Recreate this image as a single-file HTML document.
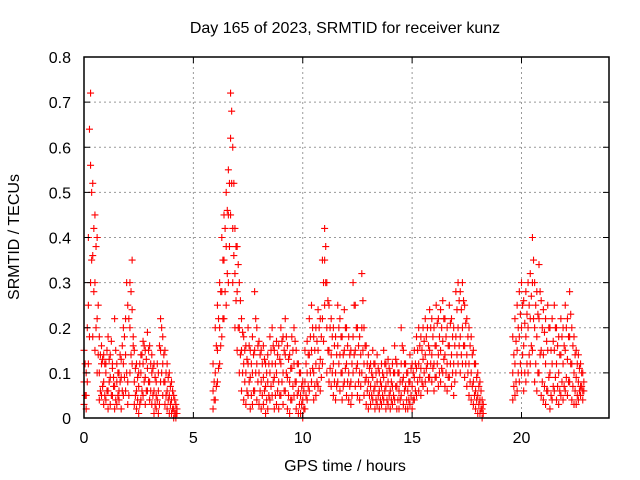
<!DOCTYPE html>
<html><head><meta charset="utf-8"><style>
body{margin:0;background:#fff;}
svg{display:block;font-family:"Liberation Sans",sans-serif;}
</style></head><body>
<svg id="chart" width="640" height="480">
<text x="345" y="33" font-size="16" text-anchor="middle">Day 165 of 2023, SRMTID for receiver kunz</text>
<text x="345" y="471" font-size="16" text-anchor="middle">GPS time / hours</text>
<text x="19" y="237" font-size="16" text-anchor="middle" transform="rotate(-90 19 237)">SRMTID / TECUs</text>
<g id="grid"></g><g id="marks"></g><g id="axes"></g>
</svg>
<script>
const segmentStart=[0,5.9,19.6];
const sampleStep=0.1;
const halfStep=0.05;
const upperA=[.15,.10,.40,.72,.52,.45,.40,.18,.16,.14,.12,.18,.14,.12,.22,.12,.10,.13,.20,.22,.25,.30,.35,.15,.12,.10,.14,.17,.15,.19,.16,.14,.12,.08,.10,.22,.18,.15,.12,.10,.08,.05,.03];
const midA=[.08,.05,.25,.56,.36,.30,.22,.10,.12,.08,.10,.06,.09,.11,.07,.08,.06,.09,.12,.14,.08,.20,.24,.08,.06,.07,.10,.12,.09,.11,.08,.10,.06,.05,.06,.15,.12,.08,.06,.05,.04,.02,.01];
const lowA=[.03,.02,.12,.30,.18,.15,.10,.04,.05,.03,.04,.02,.03,.05,.02,.03,.04,.02,.05,.06,.03,.10,.12,.03,.02,.01,.04,.05,.03,.06,.04,.03,.01,.02,.01,.08,.05,.03,.02,.01,.01,.00,.00];
const upperB=[.12,.20,.25,.30,.40,.45,.50,.55,.72,.60,.42,.38,.30,.22,.18,.16,.20,.15,.18,.28,.20,.17,.15,.16,.12,.14,.18,.20,.15,.17,.16,.20,.18,.22,.16,.14,.18,.20,.15,.12,.10,.08,.15,.17,.22,.25,.18,.20,.24,.22,.35,.42,.30,.25,.22,.20,.18,.25,.22,.18,.24,.20,.18,.15,.30,.25,.20,.18,.32,.20,.16,.14,.12,.15,.12,.14,.10,.12,.15,.12,.13,.10,.12,.16,.12,.10,.20,.15,.12,.10,.14,.12,.15,.18,.20,.18,.20,.22,.20,.24,.22,.20,.25,.22,.24,.26,.22,.20,.25,.22,.20,.28,.30,.28,.30,.25,.22,.20,.18,.15,.12,.10,.08,.04];
const midB=[.06,.10,.15,.20,.28,.35,.38,.45,.62,.42,.32,.28,.20,.15,.12,.10,.12,.09,.10,.15,.12,.10,.08,.09,.07,.08,.10,.12,.09,.10,.08,.12,.10,.14,.09,.08,.11,.12,.08,.06,.05,.04,.08,.10,.14,.15,.10,.12,.15,.13,.22,.35,.20,.15,.14,.12,.10,.16,.14,.10,.15,.12,.10,.08,.18,.15,.12,.10,.20,.12,.09,.08,.07,.09,.07,.08,.06,.07,.09,.07,.08,.06,.07,.10,.07,.06,.12,.09,.07,.06,.08,.07,.09,.11,.12,.11,.13,.14,.12,.15,.14,.12,.16,.14,.15,.17,.14,.12,.16,.14,.12,.18,.20,.18,.20,.16,.14,.12,.10,.08,.06,.05,.04,.02];
const lowB=[.02,.04,.08,.12,.18,.22,.25,.30,.45,.30,.20,.15,.10,.06,.04,.03,.05,.02,.03,.06,.04,.03,.02,.03,.01,.02,.04,.05,.02,.03,.02,.05,.03,.06,.02,.01,.04,.05,.02,.01,.01,.00,.02,.04,.06,.08,.04,.05,.07,.06,.12,.25,.10,.08,.07,.05,.04,.08,.06,.04,.08,.05,.04,.03,.10,.07,.05,.04,.10,.05,.03,.02,.03,.04,.02,.03,.02,.03,.04,.02,.03,.02,.03,.04,.02,.02,.05,.03,.02,.02,.03,.02,.04,.05,.06,.05,.07,.08,.06,.09,.08,.06,.09,.07,.08,.10,.07,.06,.09,.07,.05,.10,.12,.10,.12,.09,.07,.05,.04,.03,.02,.01,.01,.00];
const upperC=[.18,.22,.25,.28,.30,.26,.28,.30,.32,.40,.30,.28,.34,.26,.24,.22,.25,.20,.22,.25,.20,.18,.22,.20,.25,.22,.28,.20,.18,.15,.14,.12,.10];
const midC=[.10,.12,.15,.18,.20,.16,.18,.20,.22,.30,.20,.18,.22,.15,.14,.12,.15,.10,.12,.15,.12,.10,.14,.12,.15,.13,.18,.12,.10,.09,.08,.07,.06];
const lowC=[.04,.05,.06,.08,.10,.06,.08,.10,.12,.15,.08,.06,.10,.05,.04,.03,.06,.02,.04,.06,.04,.03,.05,.04,.06,.05,.08,.04,.03,.03,.04,.05,.04];
// offset samples (half-step later)
const offHiA=[.12,.20,.64,.50,.42,.38,.25,.14,.13,.12,.15,.13,.17,.09,.15,.10,.14,.16,.18,.30,.22,.28,.18,.11,.09,.12,.14,.16,.13,.15,.12,.11,.09,.12,.16,.20,.14,.10,.09,.07,.06,.04,.02];
const offLoA=[.05,.08,.18,.35,.28,.20,.14,.06,.07,.05,.06,.08,.05,.07,.04,.05,.08,.06,.09,.10,.05,.14,.16,.05,.04,.03,.06,.08,.06,.08,.06,.05,.03,.04,.03,.10,.08,.05,.04,.03,.02,.01,.01];
const offHiB=[.08,.16,.22,.28,.35,.42,.46,.52,.68,.52,.38,.34,.26,.19,.15,.13,.16,.12,.14,.22,.16,.14,.12,.13,.10,.12,.15,.16,.12,.14,.13,.17,.15,.18,.13,.11,.15,.17,.12,.10,.07,.06,.12,.14,.18,.20,.15,.17,.20,.18,.30,.38,.26,.20,.18,.16,.14,.20,.18,.14,.20,.16,.14,.12,.25,.20,.16,.14,.26,.16,.12,.11,.10,.12,.10,.11,.08,.10,.12,.10,.11,.08,.10,.13,.10,.08,.16,.12,.10,.08,.11,.10,.12,.15,.16,.15,.17,.18,.16,.20,.18,.16,.21,.18,.20,.22,.18,.16,.21,.18,.16,.24,.26,.24,.26,.21,.18,.16,.14,.12,.09,.07,.06,.03];
const offLoB=[.04,.07,.11,.16,.22,.28,.32,.38,.52,.36,.26,.20,.14,.10,.08,.06,.08,.05,.06,.10,.08,.06,.05,.06,.04,.05,.07,.08,.05,.06,.05,.08,.06,.10,.05,.04,.07,.08,.05,.03,.03,.02,.05,.07,.10,.11,.07,.08,.11,.09,.17,.30,.15,.11,.10,.08,.07,.12,.10,.07,.11,.08,.07,.05,.14,.11,.08,.07,.15,.08,.06,.05,.05,.06,.04,.05,.04,.05,.06,.04,.05,.04,.05,.07,.04,.04,.08,.06,.04,.04,.05,.04,.06,.08,.09,.08,.10,.11,.09,.12,.11,.09,.12,.10,.11,.13,.10,.09,.12,.10,.08,.14,.16,.14,.16,.12,.10,.08,.07,.05,.04,.03,.02,.01];
const offHiC=[.14,.17,.20,.23,.25,.21,.23,.25,.27,.35,.25,.23,.28,.20,.19,.17,.20,.15,.17,.20,.16,.14,.18,.16,.20,.18,.23,.16,.14,.12,.11,.10,.08];
const offLoC=[.07,.08,.10,.12,.14,.10,.12,.14,.16,.22,.12,.10,.14,.08,.07,.06,.09,.05,.07,.09,.07,.06,.08,.07,.09,.08,.12,.07,.06,.05,.06,.07,.06];
const xTicks=[0,5,10,15,20];
const yTicks=[0,0.1,0.2,0.3,0.4,0.5,0.6,0.7,0.8];

const L=84,R=609,T=57,B=418,XMAX=24,YMAX=0.8;
const xs=h=>L+h/XMAX*(R-L);
const ys=v=>B-v/YMAX*(B-T);
const NS="http://www.w3.org/2000/svg";
function mk(tag,parent,attrs){const e=document.createElementNS(NS,tag);for(const k in attrs)e.setAttribute(k,attrs[k]);parent.appendChild(e);return e;}
const grid=document.getElementById('grid'),marks=document.getElementById('marks'),axes=document.getElementById('axes');
xTicks.forEach(t=>{const x=xs(t);
 if(t>0){const g=mk('line',grid,{x1:x,x2:x,y1:T,y2:B,stroke:'#999','stroke-dasharray':'2,3','stroke-width':1});
 
 }
 mk('line',axes,{x1:x,x2:x,y1:B,y2:B-6,stroke:'#000'});mk('line',axes,{x1:x,x2:x,y1:T,y2:T+6,stroke:'#000'});
 const lb=mk('text',axes,{x:x,y:B+25,'font-size':16,'text-anchor':'middle'});lb.textContent=t;
 
 });
yTicks.forEach(t=>{const y=ys(t);
 if(t>0&&t<YMAX){const g=mk('line',grid,{x1:L,x2:R,y1:y,y2:y,stroke:'#999','stroke-dasharray':'2,3','stroke-width':1});
 
 }
 mk('line',axes,{x1:L,x2:L+6,y1:y,y2:y,stroke:'#000'});mk('line',axes,{x1:R,x2:R-6,y1:y,y2:y,stroke:'#000'});
 const lb=mk('text',axes,{x:L-13,y:y+6,'font-size':16,'text-anchor':'end'});lb.textContent=(t===0?'0':t.toFixed(1));
 
 });
const fr=mk('rect',axes,{x:L,y:T,width:R-L,height:B-T,fill:'none',stroke:'#000','stroke-width':1.5});


const segs=[[upperA,midA,lowA],[upperB,midB,lowB],[upperC,midC,lowC]];
const offSegs=[[offHiA,offLoA],[offHiB,offLoB],[offHiC,offLoC]];
function plus(h,v){
 const x=xs(h),y=ys(v);
 const p=mk('path',marks,{d:`M${x-3.5},${y}h7M${x},${y-3.5}v7`,stroke:'#f00','stroke-width':1.1,fill:'none'});
 
 
}
segs.forEach((series,si)=>series.forEach(arr=>arr.forEach((v,i)=>plus(segmentStart[si]+i*sampleStep,v))));
offSegs.forEach((series,si)=>series.forEach(arr=>arr.forEach((v,i)=>plus(segmentStart[si]+i*sampleStep+halfStep,v))));
</script>
</body></html>
